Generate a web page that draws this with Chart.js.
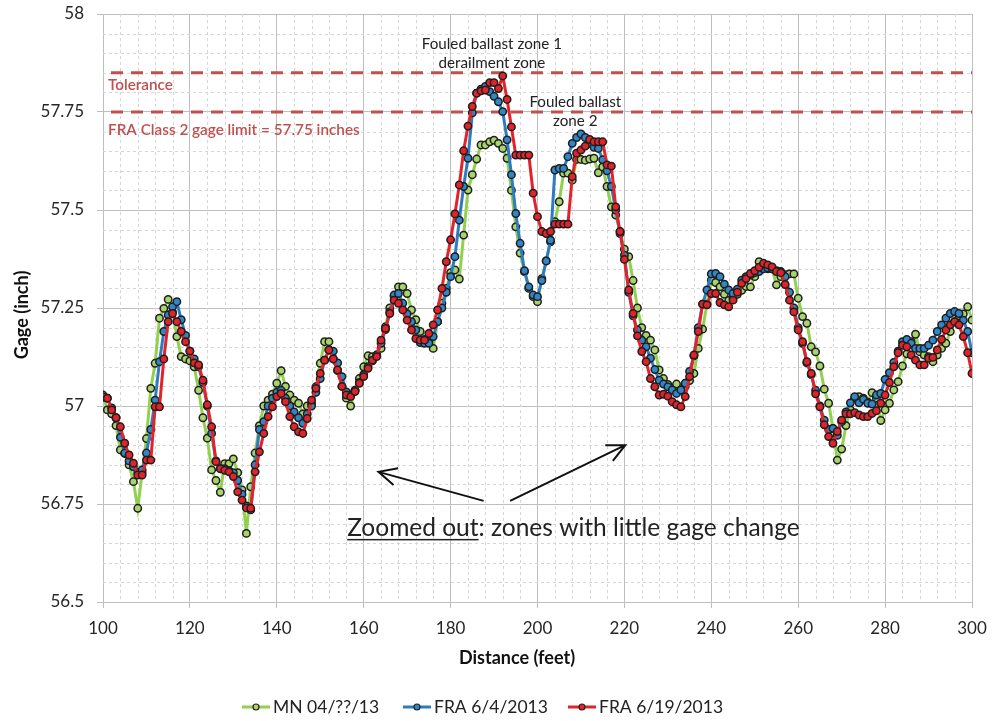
<!DOCTYPE html>
<html>
<head>
<meta charset="utf-8">
<script src="https://cdn.jsdelivr.net/npm/chart.js@4.4.0/dist/chart.umd.min.js"></script>
<style>
  html, body { margin: 0; padding: 0; background: #fff; }
  #wrap { width: 992px; height: 721px; position: relative; }
</style>
</head>
<body>
<div id="wrap"><canvas id="grafico-gage"></canvas></div>
<script>
// first sample is at 100 ft, one reading per foot
const startFeet = 100;

const mnApril = [
  57.028, 56.99, 56.98, 56.95, 56.888, 56.879, 56.85, 56.807, 56.739, 56.83,
  56.917, 57.045, 57.109, 57.224, 57.249, 57.272, 57.24, 57.177, 57.126, 57.12,
  57.115, 57.1, 57.04, 56.97, 56.918, 56.837, 56.81, 56.78, 56.853, 56.853,
  56.865, 56.83, 56.786, 56.675, 56.794, 56.88, 56.95, 57.0, 57.015, 57.03,
  57.058, 57.09, 57.05, 57.028, 57.015, 57.007, 56.98, 57.0, 57.007, 57.049,
  57.109, 57.164, 57.164, 57.12, 57.09, 57.05, 57.02, 57.0, 57.04, 57.07,
  57.1, 57.128, 57.126, 57.13, 57.147, 57.202, 57.25, 57.28, 57.304, 57.304,
  57.287, 57.245, 57.22, 57.19, 57.17, 57.164, 57.147, 57.215, 57.262, 57.3,
  57.34, 57.347, 57.324, 57.436, 57.551, 57.59, 57.63, 57.666, 57.666, 57.674,
  57.678, 57.67, 57.657, 57.632, 57.55, 57.457, 57.39, 57.343, 57.3, 57.279,
  57.266, 57.325, 57.37, 57.419, 57.47, 57.521, 57.594, 57.594, 57.576, 57.629,
  57.629, 57.627, 57.63, 57.632, 57.595, 57.61, 57.56, 57.508, 57.487, 57.445,
  57.4, 57.381, 57.32, 57.25, 57.2, 57.18, 57.168, 57.143, 57.092, 57.07,
  57.055, 57.045, 57.056, 57.04, 57.05, 57.065, 57.083, 57.147, 57.196, 57.26,
  57.321, 57.315, 57.304, 57.285, 57.269, 57.275, 57.285, 57.295, 57.305, 57.304,
  57.33, 57.368, 57.36, 57.35, 57.35, 57.309, 57.33, 57.335, 57.337, 57.337,
  57.275, 57.228, 57.211, 57.151, 57.138, 57.102, 57.043, 57.007, 56.943, 56.862,
  56.89, 56.95, 56.99, 57.02, 57.024, 57.02, 57.01, 57.034, 57.02, 56.963,
  56.99, 57.007, 57.041, 57.062, 57.102, 57.133, 57.164, 57.183, 57.138, 57.13,
  57.126, 57.113, 57.13, 57.147, 57.16, 57.19, 57.215, 57.23, 57.235, 57.253,
  57.219
];

const fraJune4 = [
  57.022, 57.02, 56.995, 56.97, 56.92, 56.88, 56.86, 56.845, 56.83, 56.837,
  56.88, 56.94, 57.015, 57.113, 57.19, 57.232, 57.253, 57.266, 57.22, 57.18,
  57.14, 57.12, 57.1, 57.06, 57.0, 56.93, 56.86, 56.84, 56.84, 56.835,
  56.83, 56.81, 56.775, 56.745, 56.735, 56.85, 56.94, 56.96, 57.0, 57.02,
  57.035, 57.04, 57.02, 57.0, 56.985, 56.97, 56.956, 56.98, 57.0, 57.035,
  57.07, 57.117, 57.143, 57.14, 57.11, 57.075, 57.036, 57.028, 57.04, 57.06,
  57.08, 57.1, 57.115, 57.13, 57.16, 57.195, 57.24, 57.283, 57.287, 57.262,
  57.235, 57.215, 57.194, 57.162, 57.16, 57.16, 57.177, 57.215, 57.25, 57.29,
  57.33, 57.381, 57.474, 57.56, 57.632, 57.748, 57.798, 57.808, 57.815, 57.802,
  57.79, 57.776, 57.751, 57.679, 57.59, 57.491, 57.415, 57.345, 57.304, 57.283,
  57.279, 57.32, 57.37, 57.423, 57.602, 57.606, 57.606, 57.636, 57.67, 57.685,
  57.694, 57.685, 57.67, 57.66, 57.657, 57.628, 57.6, 57.56, 57.5, 57.44,
  57.385, 57.29, 57.23, 57.194, 57.168, 57.151, 57.122, 57.093, 57.066, 57.056,
  57.049, 57.041, 57.032, 57.041, 57.058, 57.088, 57.128, 57.2, 57.26, 57.296,
  57.337, 57.338, 57.33, 57.311, 57.296, 57.287, 57.298, 57.321, 57.33, 57.334,
  57.34, 57.343, 57.35, 57.352, 57.35, 57.345, 57.343, 57.33, 57.29, 57.25,
  57.2, 57.16, 57.11, 57.08, 57.04, 57.0, 56.964, 56.94, 56.943, 56.925,
  56.96, 56.985, 57.008, 57.024, 57.008, 57.017, 57.007, 57.005, 57.028, 57.032,
  57.068, 57.085, 57.111, 57.14, 57.164, 57.17, 57.16, 57.147, 57.147, 57.147,
  57.155, 57.168, 57.19, 57.207, 57.224, 57.236, 57.241, 57.236, 57.219, 57.19,
  57.136
];

const fraJune19 = [
  57.024, 57.02, 56.99, 56.97, 56.947, 56.905, 56.875, 56.854, 56.824, 56.824,
  56.862, 56.862, 56.998, 56.998, 57.12, 57.215, 57.236, 57.215, 57.19, 57.164,
  57.14, 57.11, 57.105, 57.066, 57.003, 56.947, 56.858, 56.84, 56.836, 56.832,
  56.82, 56.781, 56.76, 56.74, 56.739, 56.832, 56.883, 56.93, 56.973, 56.998,
  57.024, 57.032, 57.011, 56.973, 56.947, 56.934, 56.93, 56.968, 57.015, 57.045,
  57.083, 57.117, 57.143, 57.12, 57.092, 57.05, 57.028, 57.024, 57.037, 57.058,
  57.075, 57.096, 57.117, 57.126, 57.168, 57.198, 57.236, 57.27, 57.262, 57.245,
  57.219, 57.194, 57.172, 57.168, 57.168, 57.185, 57.207, 57.245, 57.3, 57.368,
  57.424, 57.49, 57.564, 57.651, 57.714, 57.764, 57.798, 57.804, 57.806, 57.825,
  57.825, 57.81, 57.842, 57.782, 57.712, 57.64, 57.64, 57.64, 57.64, 57.543,
  57.483, 57.445, 57.44, 57.445, 57.464, 57.464, 57.464, 57.464, 57.585, 57.645,
  57.653, 57.663, 57.68, 57.674, 57.674, 57.674, 57.615, 57.612, 57.508, 57.445,
  57.374, 57.296, 57.236, 57.179, 57.139, 57.113, 57.07, 57.049, 57.028, 57.03,
  57.025, 57.011, 57.003, 56.998, 57.024, 57.075, 57.13, 57.19, 57.26, 57.258,
  57.287, 57.287, 57.264, 57.258, 57.253, 57.27, 57.29, 57.313, 57.325, 57.338,
  57.345, 57.354, 57.364, 57.36, 57.355, 57.343, 57.34, 57.31, 57.27, 57.24,
  57.194, 57.164, 57.113, 57.083, 57.031, 56.998, 56.952, 56.922, 56.905, 56.935,
  56.964, 56.98, 56.98, 56.983, 56.977, 56.973, 56.973, 56.981, 56.988, 57.007,
  57.028, 57.06, 57.1, 57.136, 57.155, 57.151, 57.13, 57.117, 57.105, 57.105,
  57.122, 57.124, 57.143, 57.17, 57.194, 57.207, 57.215, 57.207, 57.177, 57.136,
  57.083
];

const seriesNames = ["MN 04/??/13", "FRA 6/4/2013", "FRA 6/19/2013"];
const lineColors = ["#92d050", "#2e7bc0", "#e3232a"];
const markerColors = ["#a9d46c", "#2f86c8", "#e3232a"];

const xTicks = { min: 100, max: 300, step: 20, minorStep: 4 };
const yTicks = { min: 56.5, max: 58, step: 0.25, minorStep: 0.05 };

// gage limits drawn as dashed red lines
const toleranceGage = 57.85;
const fraLimitGage = 57.75;

const fontFace = "Lato, 'Open Sans', sans-serif";
const redText = "#c0504d";

function toPoints(values) {
  return values.map((v, i) => ({ x: startFeet + i, y: v }));
}

// minor dashed grid + limit lines, under the series
const gridPlugin = {
  id: "gridMinor",
  beforeDatasetsDraw(chart) {
    const { ctx, chartArea: { left, right, top, bottom }, scales: { x, y } } = chart;
    ctx.save();
    ctx.strokeStyle = "#d6d6d6";
    ctx.lineWidth = 1;
    ctx.setLineDash([3, 3]);
    for (let v = xTicks.min; v <= xTicks.max; v += xTicks.minorStep) {
      if ((v - xTicks.min) % xTicks.step === 0) continue;
      const px = Math.round(x.getPixelForValue(v)) + 0.5;
      ctx.beginPath(); ctx.moveTo(px, top); ctx.lineTo(px, bottom); ctx.stroke();
    }
    const nMinor = Math.round((yTicks.max - yTicks.min) / yTicks.minorStep);
    for (let k = 1; k < nMinor; k++) {
      if (k % 5 === 0) continue;
      const py = Math.round(y.getPixelForValue(yTicks.min + k * yTicks.minorStep)) + 0.5;
      ctx.beginPath(); ctx.moveTo(left, py); ctx.lineTo(right, py); ctx.stroke();
    }
    // limit lines
    ctx.strokeStyle = redText;
    ctx.lineWidth = 3;
    ctx.setLineDash([12, 8]);
    [toleranceGage, fraLimitGage].forEach((g) => {
      const py = y.getPixelForValue(g);
      ctx.beginPath(); ctx.moveTo(left + 8, py); ctx.lineTo(right, py); ctx.stroke();
    });
    ctx.restore();
  },
};

// texts, arrows, axis titles and legend
const notesPlugin = {
  id: "notes",
  afterDraw(chart) {
    const { ctx, chartArea: { left }, scales: { x, y } } = chart;
    const px = (v) => x.getPixelForValue(v);
    const py = (v) => y.getPixelForValue(v);
    ctx.save();
    ctx.textBaseline = "middle";

    // limit labels
    ctx.fillStyle = redText;
    ctx.font = "600 15.3px " + fontFace;
    ctx.textAlign = "left";
    ctx.fillText("Tolerance", left + 5, py(57.819));
    ctx.fillText("FRA Class 2 gage limit = 57.75 inches", left + 5, py(57.704));

    // zone labels
    ctx.fillStyle = "#222";
    ctx.font = "15.2px " + fontFace;
    ctx.textAlign = "center";
    ctx.fillText("Fouled ballast zone 1", px(189.5), py(57.923));
    ctx.fillText("derailment zone", px(189.5), py(57.874));
    ctx.fillText("Fouled ballast", px(208.7), py(57.776));
    ctx.fillText("zone 2", px(208.7), py(57.728));

    // arrows
    ctx.strokeStyle = "#111";
    ctx.lineWidth = 2;
    const arrow = (x0, y0, x1, y1) => {
      const a = px(x0), b = py(y0), c = px(x1), d = py(y1);
      const ang = Math.atan2(d - b, c - a);
      const h = 20, spread = 0.45;
      ctx.beginPath();
      ctx.moveTo(a, b); ctx.lineTo(c, d);
      ctx.moveTo(c - h * Math.cos(ang - spread), d - h * Math.sin(ang - spread));
      ctx.lineTo(c, d);
      ctx.lineTo(c - h * Math.cos(ang + spread), d - h * Math.sin(ang + spread));
      ctx.stroke();
    };
    arrow(187.6, 56.758, 163.4, 56.832);
    arrow(193.7, 56.758, 220.2, 56.9);

    // zoomed-out note with underline
    ctx.font = "24.5px " + fontFace;
    ctx.textAlign = "left";
    const noteX = px(156.2), noteY = py(56.689);
    const part1 = "Zoomed out";
    ctx.fillText(part1 + ": zones with little gage change", noteX, noteY);
    const w1 = ctx.measureText(part1).width;
    ctx.fillRect(noteX, noteY + 11, w1, 1.5);

    // axis titles
    ctx.fillStyle = "#111";
    ctx.font = "bold 18px " + fontFace;
    ctx.textAlign = "center";
    ctx.fillText("Distance (feet)", 517, 658);
    ctx.save();
    ctx.translate(22, 315);
    ctx.rotate(-Math.PI / 2);
    ctx.fillText("Gage (inch)", 0, 0);
    ctx.restore();

    // legend
    const legendX = [242, 403, 568];
    const legendY = 707;
    ctx.font = "17.5px " + fontFace;
    ctx.textAlign = "left";
    seriesNames.forEach((name, i) => {
      const x0 = legendX[i];
      ctx.strokeStyle = lineColors[i];
      ctx.lineWidth = 3;
      ctx.beginPath(); ctx.moveTo(x0, legendY); ctx.lineTo(x0 + 28, legendY); ctx.stroke();
      ctx.beginPath(); ctx.arc(x0 + 14, legendY, 3, 0, Math.PI * 2);
      ctx.fillStyle = markerColors[i]; ctx.fill();
      ctx.strokeStyle = "#222"; ctx.lineWidth = 1.2; ctx.stroke();
      ctx.fillStyle = "#222";
      ctx.fillText(name, x0 + 31, legendY);
    });
    ctx.restore();
  },
};

const series = [mnApril, fraJune4, fraJune19];

new Chart(document.getElementById("grafico-gage").getContext("2d"), {
  type: "line",
  plugins: [gridPlugin, notesPlugin],
  data: {
    datasets: series.map((vals, i) => ({
      label: seriesNames[i],
      data: toPoints(vals),
      borderColor: lineColors[i],
      borderWidth: 3,
      pointRadius: 3.7,
      pointBorderWidth: 1.5,
      pointBorderColor: "#1e1e1e",
      pointBackgroundColor: markerColors[i],
      tension: 0,
      order: 3 - i, // red on top
    })),
  },
  options: {
    responsive: true,
    maintainAspectRatio: false,
    animation: false,
    layout: { padding: { top: 14, right: 20, left: 0, bottom: 0 } },
    plugins: { legend: { display: false }, tooltip: { enabled: false } },
    scales: {
      x: {
        type: "linear",
        min: xTicks.min,
        max: xTicks.max,
        afterFit: (s) => {
          s.height = 119;
          s.paddingLeft = 0;
          s.paddingRight = 0;
        },
        ticks: {
          stepSize: xTicks.step,
          color: "#262626",
          padding: 10,
          font: { family: fontFace, size: 17 },
        },
        grid: { color: "#bfbfbf", tickLength: 6 },
        border: { color: "#bfbfbf" },
      },
      y: {
        min: yTicks.min,
        max: yTicks.max,
        afterFit: (s) => {
          s.width = 103;
          s.paddingTop = 0;
          s.paddingBottom = 0;
        },
        ticks: {
          stepSize: yTicks.step,
          color: "#262626",
          padding: 13,
          font: { family: fontFace, size: 17 },
          callback: (v) => String(+v.toFixed(2)),
        },
        grid: { color: "#bfbfbf", tickLength: 6 },
        border: { color: "#bfbfbf" },
      },
    },
  },
});
</script>
</body>
</html>
